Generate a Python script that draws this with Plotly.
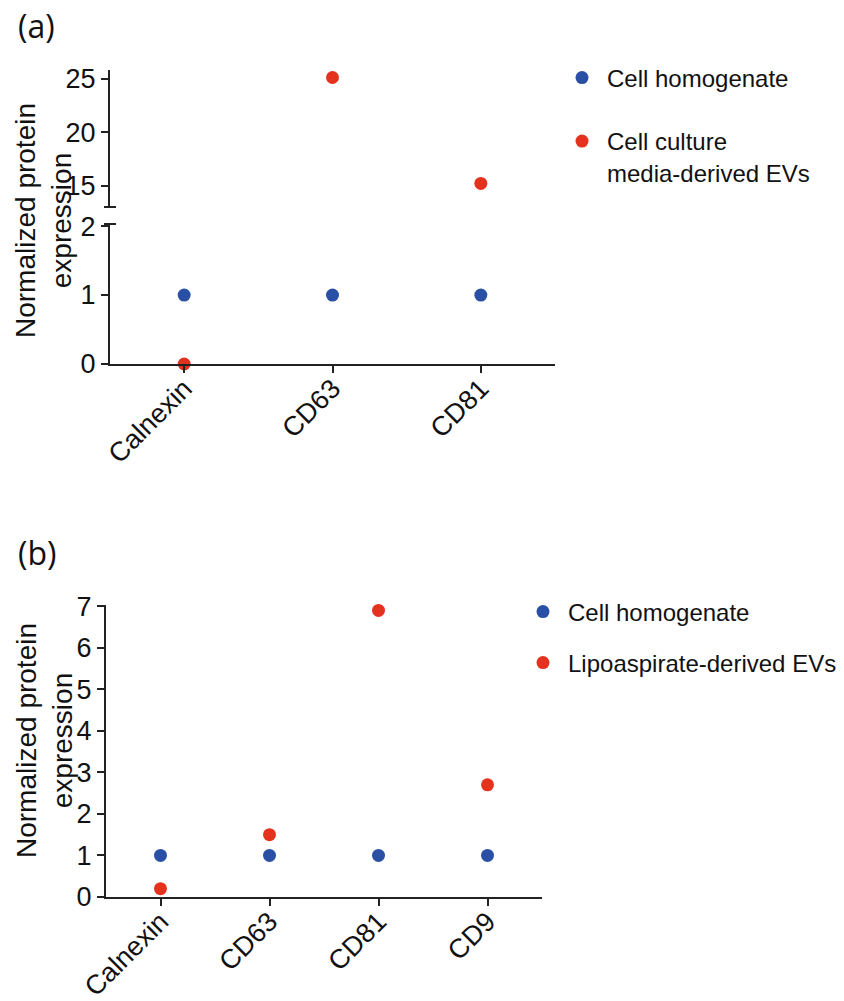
import plotly.graph_objects as go

# ---------------- data ----------------
categories_a = ["Calnexin", "CD63", "CD81"]
homogenate_a = [1, 1, 1]
media_evs_a = [0, 25.1, 15.2]

categories_b = ["Calnexin", "CD63", "CD81", "CD9"]
homogenate_b = [1, 1, 1, 1]
lipo_evs_b = [0.2, 1.5, 6.9, 2.7]

name_homog = "Cell homogenate"
name_media = "Cell culture<br>media-derived EVs"
name_lipo = "Lipoaspirate-derived EVs"

BREAK_LOW = 2.03   # top of lower segment (panel a)
BREAK_HIGH = 13.0  # bottom of upper segment (panel a)

BLUE = "#2A50A6"
RED = "#E5321F"
AX = "#222222"
FONT = "Liberation Sans, Arial, sans-serif"

W, H = 844, 1001
def px(x):
    return x / W
def py(y):
    return 1 - y / H

fig = go.Figure()

# split panel (a) red series into lower / upper segments of the broken axis
low_x = [c for c, v in zip(categories_a, media_evs_a) if v <= BREAK_LOW]
low_y = [v for v in media_evs_a if v <= BREAK_LOW]
up_x = [c for c, v in zip(categories_a, media_evs_a) if v >= BREAK_HIGH]
up_y = [v for v in media_evs_a if v >= BREAK_HIGH]

mk = dict(size=13, line=dict(width=0))

fig.add_trace(go.Scatter(x=categories_a, y=homogenate_a, mode="markers", name=name_homog,
                         marker=dict(color=BLUE, **mk), xaxis="x", yaxis="y",
                         legend="legend", cliponaxis=False))
fig.add_trace(go.Scatter(x=low_x, y=low_y, mode="markers", name=name_media,
                         marker=dict(color=RED, **mk), xaxis="x", yaxis="y",
                         legend="legend2", cliponaxis=False))
fig.add_trace(go.Scatter(x=up_x, y=up_y, mode="markers", name=name_media,
                         marker=dict(color=RED, **mk), xaxis="x", yaxis="y2",
                         showlegend=False, cliponaxis=False))

fig.add_trace(go.Scatter(x=categories_b, y=homogenate_b, mode="markers", name=name_homog,
                         marker=dict(color=BLUE, **mk), xaxis="x2", yaxis="y3",
                         legend="legend3", cliponaxis=False))
fig.add_trace(go.Scatter(x=categories_b, y=lipo_evs_b, mode="markers", name=name_lipo,
                         marker=dict(color=RED, **mk), xaxis="x2", yaxis="y3",
                         legend="legend4", cliponaxis=False))

axis_common = dict(showline=True, linecolor=AX, linewidth=2, ticks="outside",
                   ticklen=7, tickwidth=2, tickcolor=AX, showgrid=False, zeroline=False,
                   automargin=False,
                   tickfont=dict(family=FONT, size=27, color="#111"))
xaxis_extra = dict(tickangle=-45, ticklabelstandoff=-11)

fig.update_layout(
    width=W, height=H,
    margin=dict(l=0, r=0, t=0, b=0, autoexpand=False),
    paper_bgcolor="white", plot_bgcolor="white",
    font=dict(family=FONT, color="#111"),
    xaxis=dict(domain=[px(110), px(555)], anchor="y", type="category",
               categoryorder="array", categoryarray=categories_a,
               range=[-0.5, len(categories_a) - 0.5], **xaxis_extra, **axis_common),
    yaxis=dict(domain=[py(364), py(224)], anchor="x", range=[0, BREAK_LOW],
               tickvals=[0, 1, 2], **axis_common),
    yaxis2=dict(domain=[py(207), py(70)], anchor="x", range=[BREAK_HIGH, 25.8],
                tickvals=[15, 20, 25], **axis_common),
    xaxis2=dict(domain=[px(106), px(542)], anchor="y3", type="category",
                categoryorder="array", categoryarray=categories_b,
                range=[-0.5, len(categories_b) - 0.5], **xaxis_extra, **axis_common),
    yaxis3=dict(domain=[py(897), py(605)], anchor="x2", range=[0, 7.03],
                tickvals=list(range(0, 8)), **axis_common),
)

leg_common = dict(font=dict(family=FONT, size=24, color="#111"), bgcolor="rgba(0,0,0,0)",
                  borderwidth=0, xanchor="left", itemwidth=40, valign="top")
fig.update_layout(
    legend=dict(x=px(557), y=py(78), yanchor="middle", **leg_common),
    legend2=dict(x=px(557), y=py(119), yanchor="top", **leg_common),
    legend3=dict(x=px(518), y=py(612), yanchor="middle", **leg_common),
    legend4=dict(x=px(518), y=py(663), yanchor="middle", **leg_common),
)

# axis break marks (panel a)
for yref, yv in (("y2 domain", 0), ("y domain", 1)):
    fig.add_shape(type="line", xref="x domain", yref=yref, xsizemode="pixel", xanchor=0,
                  x0=-6, x1=6, y0=yv, y1=yv, line=dict(color=AX, width=2))

# y-axis titles
title_txt = "Normalized protein<br>expression"
for yc in (221, 741):
    fig.add_annotation(text=title_txt, xref="paper", yref="paper", x=px(44), y=py(yc),
                       xanchor="center", yanchor="middle", textangle=-90, showarrow=False,
                       font=dict(family=FONT, size=28, color="#111"))

# panel labels
for lab, yc in (("(a)", 25), ("(b)", 552)):
    fig.add_annotation(text=lab, xref="paper", yref="paper", x=px(16), y=py(yc),
                       xanchor="left", yanchor="middle", showarrow=False,
                       font=dict(family="Open Sans, sans-serif", size=32, color="#111"))

fig.write_html("out.html")
